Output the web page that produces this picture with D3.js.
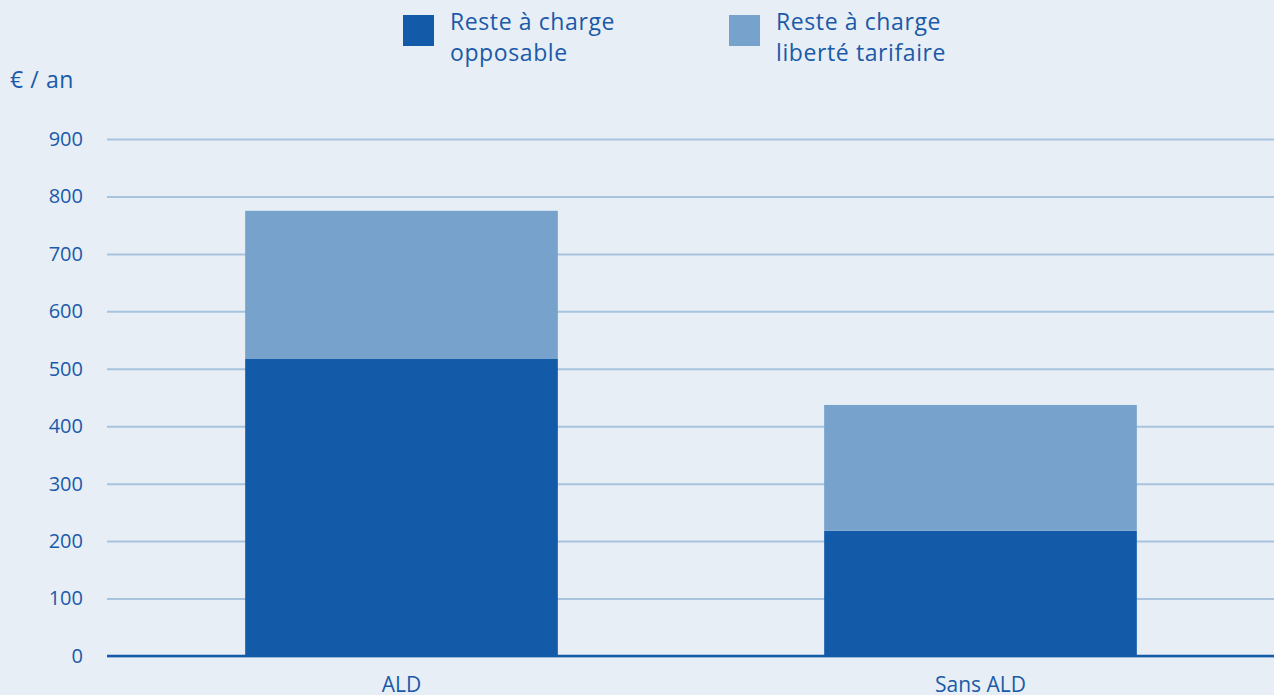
<!DOCTYPE html>
<html>
<head>
<meta charset="utf-8">
<script src="https://cdn.jsdelivr.net/npm/d3@7"></script>
<style>
  body { margin: 0; background: #e7eef6; }
  svg { display: block; font-family: "Open Sans", sans-serif; }
</style>
</head>
<body>
<div id="chart"></div>
<script>
// data
let categories = ["ALD", "Sans ALD"];
let opposable = [517, 218];
let liberte = [258, 219];
let seriesNames = ["Reste à charge\nopposable", "Reste à charge\nliberté tarifaire"];
let yTicks = [0, 100, 200, 300, 400, 500, 600, 700, 800, 900];

let colors = ["#135aa9", "#77a2cb"];
let textColor = "#1a5aa8";

let W = 1274, H = 695;
let margin = { top: 139, bottom: 39, left: 107, right: 0 };

let svg = d3.select("#chart")
    .append("svg")
    .attr("width", W)
    .attr("height", H);

svg.append("rect").attr("width", W).attr("height", H).attr("fill", "#e7eef6");

let x = d3.scaleBand()
    .domain(categories)
    .range([112, 1270])
    .paddingInner(0.46)
    .paddingOuter(0.23);

let y = d3.scaleLinear()
    .domain([0, 900])
    .range([H - margin.bottom, margin.top]);

//gridlines + tick labels
let yAxis = svg.append("g")
    .attr("transform", `translate(${margin.left},0)`)
    .call(d3.axisLeft(y).tickValues(yTicks).tickSize(-(W - margin.left)).tickPadding(24));
yAxis.select(".domain").remove();
yAxis.selectAll(".tick line").attr("stroke", "#a8c3dd").attr("stroke-width", 2);
yAxis.selectAll(".tick text")
    .attr("fill", textColor)
    .attr("font-size", 20)
    .attr("font-family", "'Open Sans', sans-serif");

//stack the data
let rows = categories.map((c, i) => ({ cat: c, s0: opposable[i], s1: liberte[i] }));
let stack = d3.stack().keys(["s0", "s1"])(rows);

svg.append("g").selectAll("g")
    .data(stack)
    .join("g")
    .attr("fill", (d, i) => colors[i])
    .selectAll("rect")
    .data(d => d)
    .join("rect")
    .attr("x", d => x(d.data.cat))
    .attr("width", x.bandwidth())
    .attr("y", d => y(d[1]))
    .attr("height", d => y(d[0]) - y(d[1]));

//x axis
let xAxis = svg.append("g")
    .attr("transform", `translate(0,${y(0)})`)
    .call(d3.axisBottom(x).tickSize(0).tickPadding(21));
xAxis.select(".domain").remove();
xAxis.append("line")
    .attr("x1", margin.left).attr("x2", W)
    .attr("stroke", "#135aa9").attr("stroke-width", 2.5);
xAxis.selectAll(".tick text")
    .attr("fill", textColor)
    .attr("font-size", 21)
    .attr("font-family", "'Open Sans', sans-serif");

//unit label
svg.append("text")
    .attr("x", 10).attr("y", 88)
    .attr("fill", textColor)
    .attr("font-size", 23)
    .attr("letter-spacing", 0.6)
    .text("€ / an");

//legend
let legendX = [403, 729];
seriesNames.forEach(function(name, i) {
  let g = svg.append("g").attr("transform", `translate(${legendX[i]},15)`);
  g.append("rect").attr("width", 31).attr("height", 31).attr("fill", colors[i]);
  name.split("\n").forEach(function(line, j) {
    g.append("text")
      .attr("x", 47).attr("y", 15 + j * 31)
      .attr("fill", textColor)
      .attr("font-size", 23)
      .attr("letter-spacing", 0.6)
      .text(line);
  });
});
</script>
</body>
</html>
